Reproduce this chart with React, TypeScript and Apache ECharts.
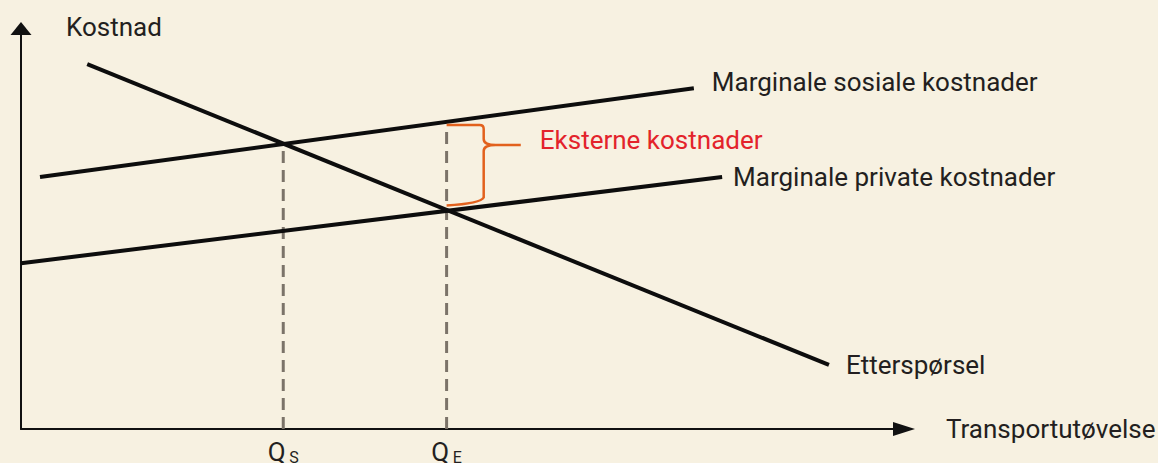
import React, { useEffect, useRef } from "react";
import * as echarts from "echarts";

// Curves: [x, y] endpoints (abstract units 0..100)
const demandName = "Etterspørsel";
const demandPoints = [[7.5, 91.1], [91.5, 16.0]];
const mscName = "Marginale sosiale kostnader";
const mscPoints = [[2.15, 62.9], [76.2, 85.1]];
const mpcName = "Marginale private kostnader";
const mpcPoints = [[0, 41.4], [79.4, 62.9]];

// Quantities and dashed guide lines
const qLabels = ["{q|Q} {s|S}", "{q|Q} {s|E}"];
const qValues = [29.7, 48.2];
const qTops = [71.2, 75.9];

// Brace for external costs: [xLeft, yTop, yBottom, xSpine, xTip, yTip]
const braceName = "Eksterne kostnader";
const braceData = [[48.2, 75.9, 55.8, 52.4, 56.6, 70.9]];

const yAxisName = "Kostnad";
const xAxisName = "Transportutøvelse";

const FONT = "Roboto";
const TEXT = "#231f20";

export default function App() {
  const ref = useRef<HTMLDivElement>(null);
  useEffect(() => {
    const chart = echarts.init(ref.current!, null, { renderer: "svg" });
    const lineSeries = (name: string, pts: number[][], distance: number, dy: number) => ({
      type: "line",
      name,
      data: pts,
      symbol: "none",
      z: 5,
      lineStyle: { color: "#0d0d0d", width: 4, cap: "butt" },
      endLabel: {
        show: true,
        formatter: () => name,
        distance,
        offset: [0, dy],
        color: TEXT,
        fontSize: 26,
        fontFamily: FONT,
      },
    });
    const dashed = qValues.map((q, i) => ({
      type: "line",
      name: "guide" + i,
      data: [[q, 0], [q, qTops[i]]],
      symbol: "none",
      z: 2,
      lineStyle: { color: "#7b7369", width: 3, type: [12, 7] },
    }));
    chart.setOption({
      animation: false,
      backgroundColor: "#f7f1e1",
      grid: { left: 21, right: 254, top: 28.5, bottom: 34, outerBoundsMode: "none" },
      xAxis: {
        type: "value",
        min: 0,
        max: 100,
        name: xAxisName,
        nameLocation: "end",
        nameGap: 42,
        nameTextStyle: {
          color: TEXT,
          fontSize: 26,
          fontFamily: FONT,
          align: "left",
          verticalAlign: "middle",
          padding: [0, 0, 10, 0],
        },
        splitLine: { show: false },
        axisTick: { show: false },
        axisLine: {
          show: true,
          lineStyle: { color: "#111", width: 2 },
          symbol: ["none", "triangle"],
          symbolSize: [14, 22],
        },
        axisLabel: {
          show: true,
          customValues: qValues,
          showMinLabel: true,
          showMaxLabel: true,
          hideOverlap: false,
          margin: 10,
          formatter: (v: number) => {
            const i = qValues.indexOf(v);
            return i >= 0 ? qLabels[i] : "";
          },
          color: TEXT,
          fontFamily: FONT,
          fontSize: 15,
          rich: {
            q: { fontSize: 26, fontFamily: FONT, color: TEXT, verticalAlign: "bottom", lineHeight: 26 },
            s: { fontSize: 16, fontFamily: FONT, color: TEXT, verticalAlign: "bottom", lineHeight: 22 },
          },
        },
      },
      yAxis: {
        type: "value",
        min: 0,
        max: 100,
        name: yAxisName,
        nameLocation: "end",
        nameGap: 1.5,
        nameTextStyle: {
          color: TEXT,
          fontSize: 26,
          fontFamily: FONT,
          align: "left",
          verticalAlign: "middle",
          padding: [0, 0, 0, 45],
        },
        splitLine: { show: false },
        axisTick: { show: false },
        axisLabel: { show: false },
        axisLine: {
          show: true,
          lineStyle: { color: "#111", width: 2 },
          symbol: ["none", "triangle"],
          symbolSize: [21, 13],
        },
      },
      series: [
        ...dashed,
        lineSeries(mscName, mscPoints, 18, -6),
        lineSeries(mpcName, mpcPoints, 11, 0),
        lineSeries(demandName, demandPoints, 17, 0),
        {
          type: "custom",
          name: braceName,
          z: 6,
          data: braceData,
          renderItem: (_p: any, api: any) => {
            const tl = api.coord([api.value(0), api.value(1)]);
            const bl = api.coord([api.value(0), api.value(2)]);
            const spine = api.coord([api.value(3), api.value(1)])[0];
            const tip = api.coord([api.value(4), api.value(5)]);
            const x0 = tl[0], yT = tl[1], yB = bl[1], x1 = spine, x2 = tip[0], yM = tip[1];
            const d = [
              `M${x0},${yT}`,
              `L${x1 - 4},${yT}`,
              `Q${x1},${yT} ${x1},${yT + 4}`,
              `L${x1},${yM - 6}`,
              `Q${x1},${yM} ${x1 + 12},${yM}`,
              `L${x2},${yM}`,
              `M${x1 + 12},${yM}`,
              `Q${x1},${yM} ${x1},${yM + 6}`,
              `L${x1},${yB - 8}`,
              `Q${x1 - 3},${yB - 2} ${x0},${yB}`,
            ].join(" ");
            return {
              type: "group",
              children: [
                {
                  type: "path",
                  shape: { pathData: d },
                  style: { stroke: "#e2611d", fill: "none", lineWidth: 2.5 },
                },
                {
                  type: "text",
                  x: x2 + 19,
                  y: yM - 5,
                  style: {
                    text: braceName,
                    fill: "#e3232b",
                    fontSize: 26,
                    fontFamily: FONT,
                    verticalAlign: "middle",
                    align: "left",
                  },
                },
              ],
            };
          },
        },
      ],
    });
    return () => chart.dispose();
  }, []);
  return (
    <div
      ref={ref}
      style={{ position: "absolute", left: 0, top: 0, width: 1158, height: 463 }}
    />
  );
}
